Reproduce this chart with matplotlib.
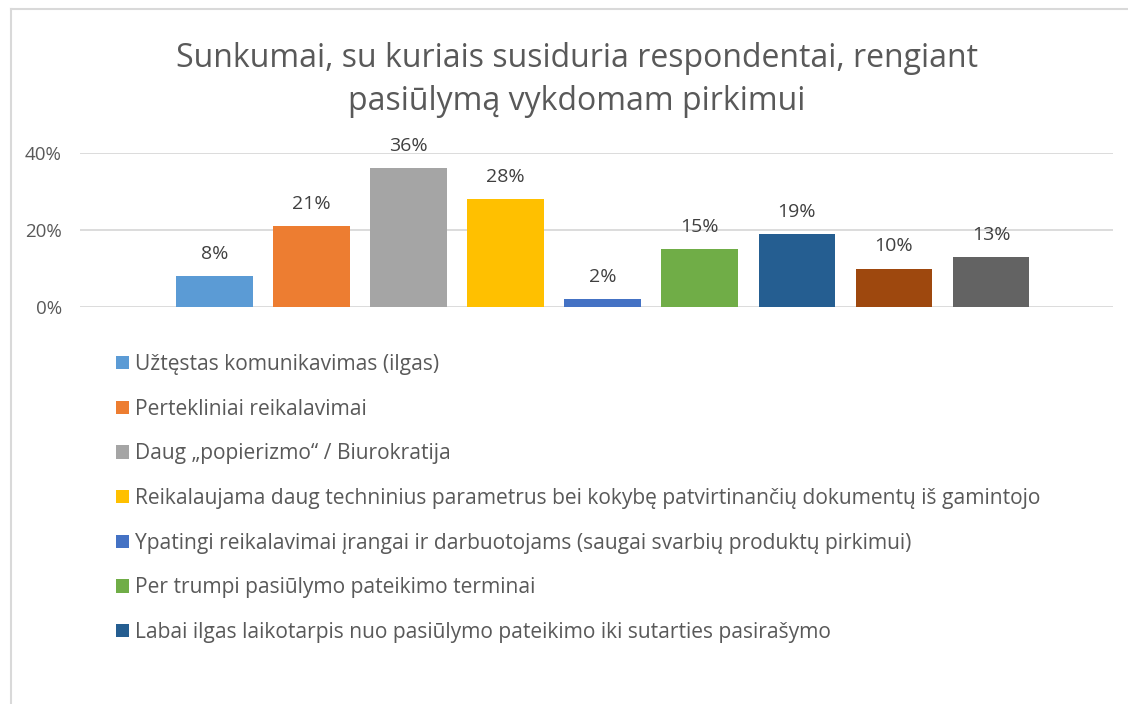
import matplotlib.pyplot as plt
import matplotlib.lines as mlines

plt.rcParams['font.family'] = ['Open Sans', 'DejaVu Sans']

categories = [
    'Užtęstas komunikavimas (ilgas)',
    'Pertekliniai reikalavimai',
    'Daug „popierizmo“ / Biurokratija',
    'Reikalaujama daug techninius parametrus bei kokybę patvirtinančių dokumentų iš gamintojo',
    'Ypatingi reikalavimai įrangai ir darbuotojams (saugai svarbių produktų pirkimui)',
    'Per trumpi pasiūlymo pateikimo terminai',
    'Labai ilgas laikotarpis nuo pasiūlymo pateikimo iki sutarties pasirašymo',
    'Kita',
    'Nėra sunkumų',
]
values = [8, 21, 36, 28, 2, 15, 19, 10, 13]
colors = ['#5B9BD5', '#ED7D31', '#A5A5A5', '#FFC000', '#4472C4',
          '#70AD47', '#255E91', '#9E480E', '#636363']
yticks = [0, 20, 40]
title = 'Sunkumai, su kuriais susiduria respondentai, rengiant\npasiūlymą vykdomam pirkimui'

text_col = '#595959'

fig = plt.figure(figsize=(11.28, 7.04), dpi=100)
ax = fig.add_axes([80 / 1128, 1 - 307 / 704, (1113 - 80) / 1128, (307 - 153) / 704])

x = list(range(len(values)))
bars = ax.bar(x, values, width=0.79, color=colors, zorder=3)
for xi, v in zip(x, values):
    ax.text(xi, v + 3.4, f'{v}%', ha='center', va='bottom', fontsize=14, color='#404040')

ax.set_xlim(-1.386, 9.257)
ax.set_ylim(0, 40)
ax.set_yticks(yticks)
ax.set_yticklabels([f'{t}%' for t in yticks], fontsize=13.5, color=text_col)
ax.set_xticks([])
ax.tick_params(axis='y', length=0, pad=13)
ax.grid(axis='y', color='#D9D9D9', linewidth=1.3, zorder=0)
for s in ax.spines.values():
    s.set_visible(False)

fig.text(577 / 1128, 1 - 80 / 704, title, ha='center', va='center',
         fontsize=23, color=text_col, linespacing=1.4)

leg = ax.legend(bars[:7], categories[:7], loc='upper left',
                bbox_to_anchor=(116 / 1128, 1 - 354 / 704), bbox_transform=fig.transFigure,
                frameon=False, fontsize=15.1, handlelength=0.6, handleheight=0.6,
                handletextpad=0.3, labelspacing=1.13, borderaxespad=0, borderpad=0)
for t in leg.get_texts():
    t.set_color(text_col)

# chart frame
fig.add_artist(mlines.Line2D([11 / 1128, 11 / 1128], [0, 1 - 9 / 704], color='#D9D9D9', lw=1.5))
fig.add_artist(mlines.Line2D([11 / 1128, 1], [1 - 9 / 704, 1 - 9 / 704], color='#D9D9D9', lw=1.5))

fig.savefig('out.png', dpi=100)
